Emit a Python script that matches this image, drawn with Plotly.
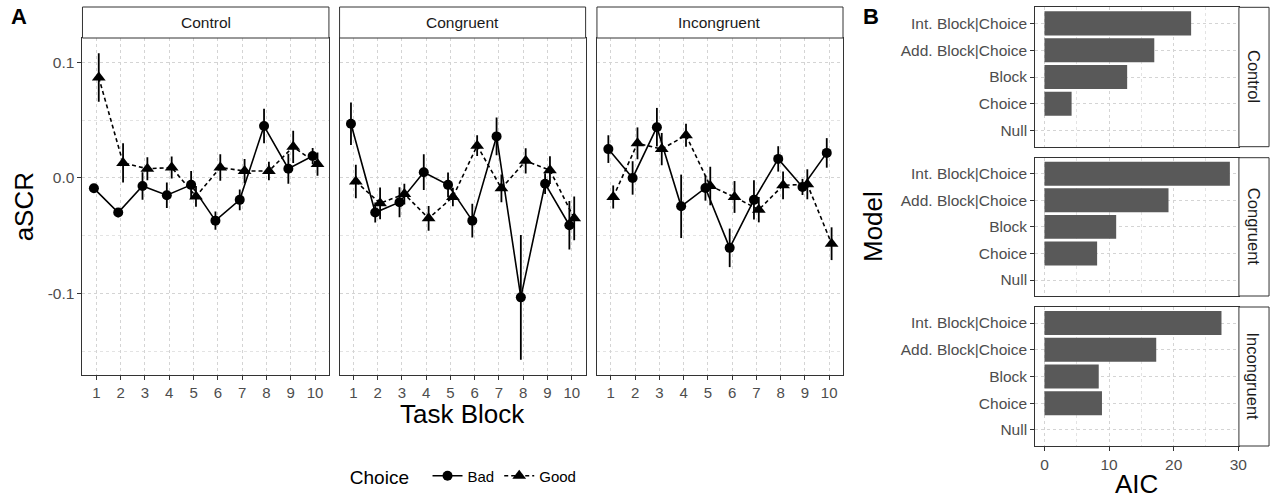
import plotly.graph_objects as go

W, H = 1282, 499

# ---------------- data ----------------
blocks = [1, 2, 3, 4, 5, 6, 7, 8, 9, 10]
conditions = ["Control", "Congruent", "Incongruent"]

control_bad = [-0.009, -0.030, -0.007, -0.015, -0.006, -0.037, -0.019, 0.045, 0.008, 0.019]
control_bad_err = [0.003, 0.004, 0.012, 0.011, 0.012, 0.008, 0.009, 0.015, 0.013, 0.007]
control_good = [0.087, 0.013, 0.008, 0.009, -0.016, 0.009, 0.006, 0.006, 0.027, 0.012]
control_good_err = [0.021, 0.017, 0.010, 0.0095, 0.009, 0.0115, 0.0105, 0.008, 0.014, 0.010]

congruent_bad = [0.047, -0.030, -0.021, 0.005, -0.006, -0.037, 0.036, -0.1035, -0.005, -0.041]
congruent_bad_err = [0.0185, 0.0087, 0.013, 0.0155, 0.0107, 0.0146, 0.0164, 0.054, 0.009, 0.021]
congruent_good = [-0.003, -0.022, -0.014, -0.035, -0.0165, 0.028, -0.009, 0.0148, 0.0067, -0.035]
congruent_good_err = [0.0145, 0.0138, 0.009, 0.0107, 0.008, 0.009, 0.012, 0.011, 0.012, 0.019]

incongruent_bad = [0.025, 0.000, 0.044, -0.0246, -0.0087, -0.0606, -0.019, 0.0165, -0.0078, 0.0217]
incongruent_bad_err = [0.012, 0.0145, 0.0167, 0.0275, 0.011, 0.0167, 0.017, 0.011, 0.007, 0.0128]
incongruent_good = [-0.0165, 0.030, 0.025, 0.037, -0.007, -0.0165, -0.0275, -0.0064, -0.0055, -0.057]
incongruent_good_err = [0.010, 0.0138, 0.014, 0.010, 0.0167, 0.0138, 0.011, 0.012, 0.013, 0.0142]

models = ["Null", "Choice", "Block", "Add. Block|Choice", "Int. Block|Choice"]
aic_control = [0, 4.2, 12.8, 17.0, 22.7]
aic_congruent = [0, 8.15, 11.1, 19.2, 28.7]
aic_incongruent = [0, 8.9, 8.4, 17.3, 27.4]

ytick_vals = [-0.1, 0.0, 0.1]
ytick_text = ["-0.1", "0.0", "0.1"]
aic_ticks = [0, 10, 20, 30]

# ---------------- helpers ----------------
def PX(x):
    return x / W

def PY(y):
    return 1 - y / H

FONT = "Liberation Sans, Arial, Helvetica, sans-serif"
FRAME = "#333333"
GRID = "#d4d4d4"
TICKC = "#4d4d4d"
DODGE = 0.1

fig = go.Figure()

series = [
    (control_bad, control_bad_err, control_good, control_good_err),
    (congruent_bad, congruent_bad_err, congruent_good, congruent_good_err),
    (incongruent_bad, incongruent_bad_err, incongruent_good, incongruent_good_err),
]

for i, (bad, bad_e, good, good_e) in enumerate(series):
    ax = "" if i == 0 else str(i + 1)
    fig.add_trace(go.Scatter(
        x=[b - DODGE for b in blocks], y=bad, mode="lines+markers",
        name="Bad", legendgroup="Bad", showlegend=(i == 0),
        line=dict(color="black", width=1.6, dash="solid"),
        marker=dict(symbol="circle", size=10, color="black"),
        error_y=dict(type="data", array=bad_e, visible=True, color="black", thickness=1.8, width=0),
        xaxis="x" + ax, yaxis="y" + ax,
    ))
    fig.add_trace(go.Scatter(
        x=[b + DODGE for b in blocks], y=good, mode="lines+markers",
        name="Good", legendgroup="Good", showlegend=(i == 0),
        line=dict(color="black", width=1.6, dash="4px,3px"),
        marker=dict(symbol="triangle-up", size=12, color="black"),
        error_y=dict(type="data", array=good_e, visible=True, color="black", thickness=1.8, width=0),
        xaxis="x" + ax, yaxis="y" + ax,
    ))

aics = [aic_control, aic_congruent, aic_incongruent]
for j, vals in enumerate(aics):
    n = str(j + 4)
    fig.add_trace(go.Bar(
        x=vals, y=models, orientation="h", width=0.9,
        marker=dict(color="#595959", line=dict(width=0)),
        showlegend=False, xaxis="x" + n, yaxis="y" + n,
    ))

# ---------------- layout ----------------
layout = dict(
    width=W, height=H,
    margin=dict(l=0, r=0, t=0, b=0),
    paper_bgcolor="white", plot_bgcolor="white",
    font=dict(family=FONT, color="black"),
    showlegend=True,
    legend=dict(
        orientation="h", x=PX(350), xanchor="left", y=PY(477), yanchor="middle",
        title=dict(text="Choice  ", font=dict(size=19, family=FONT, color="black"), side="left"),
        font=dict(size=15, family=FONT, color="black"),
        bgcolor="rgba(0,0,0,0)", itemwidth=30, tracegroupgap=0,
    ),
)

a_panels = [(83, 331), (341.7, 589.3), (600.7, 848.3)]
a_top, a_bot = 38, 375
yr = [-0.1708, 0.1213]
xr = [0.43, 10.57]

for i, (l, r) in enumerate(a_panels):
    ax = "" if i == 0 else str(i + 1)
    layout["xaxis" + ax] = dict(
        domain=[PX(l), PX(r)], range=xr, anchor="y" + ax,
        tickvals=blocks, ticks="outside", ticklen=4, tickwidth=1, tickcolor=FRAME,
        tickfont=dict(size=15, color=TICKC, family=FONT),
        showgrid=True, gridcolor=GRID, griddash="3px,3px", gridwidth=1,
        showline=True, mirror=True, linecolor=FRAME, linewidth=1, zeroline=False,
    )
    layout["yaxis" + ax] = dict(
        domain=[PY(a_bot), PY(a_top)], range=yr, anchor="x" + ax,
        tickvals=ytick_vals, ticktext=ytick_text,
        ticks="outside" if i == 0 else "", ticklen=4, tickwidth=1, tickcolor=FRAME,
        showticklabels=(i == 0),
        tickfont=dict(size=15.5, color=TICKC, family=FONT),
        showgrid=True, gridcolor=GRID, griddash="3px,3px", gridwidth=1,
        minor=dict(tickvals=[-0.15, -0.05, 0.05], showgrid=True, gridcolor="#e3e3e3",
                   griddash="3px,3px", gridwidth=1),
        showline=True, mirror=True, linecolor=FRAME, linewidth=1, zeroline=False,
    )

b_l, b_r = 1041.7, 1246.7
b_panels = [(7.3, 146.7), (157.7, 296), (307, 446)]
for j, (t, b) in enumerate(b_panels):
    n = str(j + 4)
    layout["xaxis" + n] = dict(
        domain=[PX(b_l), PX(b_r)], range=[-1.435, 30.1], anchor="y" + n,
        tickvals=aic_ticks, ticks="outside" if j == 2 else "", ticklen=4, tickcolor=FRAME,
        showticklabels=(j == 2),
        tickfont=dict(size=15.5, color=TICKC, family=FONT),
        showgrid=True, gridcolor=GRID, griddash="3px,3px", gridwidth=1,
        minor=dict(tickvals=[5, 15, 25], showgrid=True, gridcolor="#e3e3e3",
                   griddash="3px,3px", gridwidth=1),
        showline=True, mirror=True, linecolor=FRAME, linewidth=1, zeroline=False,
    )
    layout["yaxis" + n] = dict(
        domain=[PY(b), PY(t)], anchor="x" + n, type="category",
        categoryorder="array", categoryarray=models, range=[-0.6, 4.6],
        ticks="outside", ticklen=4, tickcolor=FRAME,
        tickfont=dict(size=15.5, color=TICKC, family=FONT),
        showgrid=True, gridcolor=GRID, griddash="3px,3px", gridwidth=1,
        showline=True, mirror=True, linecolor=FRAME, linewidth=1, zeroline=False,
    )

shapes = []
annotations = []

# strips for panel A
for (l, r), name in zip(a_panels, conditions):
    shapes.append(dict(type="rect", xref="paper", yref="paper",
                       x0=PX(l), x1=PX(r), y0=PY(a_top), y1=PY(7),
                       line=dict(color=FRAME, width=1), fillcolor="white", layer="above"))
    annotations.append(dict(xref="paper", yref="paper", x=PX((l + r) / 2), y=PY(22.5),
                            text=name, showarrow=False, xanchor="center", yanchor="middle",
                            font=dict(size=15.5, color="#1a1a1a", family=FONT)))

# strips for panel B (right side)
for (t, b), name in zip(b_panels, conditions):
    shapes.append(dict(type="rect", xref="paper", yref="paper",
                       x0=PX(b_r), x1=PX(1277), y0=PY(b), y1=PY(t),
                       line=dict(color=FRAME, width=1), fillcolor="white", layer="above"))
    annotations.append(dict(xref="paper", yref="paper", x=PX((b_r + 1277) / 2), y=PY((t + b) / 2),
                            text=name, showarrow=False, textangle=90,
                            xanchor="center", yanchor="middle",
                            font=dict(size=16.5, color="#1a1a1a", family=FONT)))

# titles
annotations += [
    dict(xref="paper", yref="paper", x=PX(465.5), y=PY(414), text="Task Block", showarrow=False,
         xanchor="center", yanchor="middle", font=dict(size=26, family=FONT, color="black")),
    dict(xref="paper", yref="paper", x=PX(24), y=PY(206.5), text="aSCR", showarrow=False,
         textangle=-90, xanchor="center", yanchor="middle", font=dict(size=26, family=FONT, color="black")),
    dict(xref="paper", yref="paper", x=PX(1144), y=PY(484), text="AIC", showarrow=False,
         xanchor="center", yanchor="middle", font=dict(size=26, family=FONT, color="black")),
    dict(xref="paper", yref="paper", x=PX(878), y=PY(226.5), text="Model", showarrow=False,
         textangle=-90, xanchor="center", yanchor="middle", font=dict(size=26, family=FONT, color="black")),
    dict(xref="paper", yref="paper", x=PX(9), y=PY(16), text="<b>A</b>", showarrow=False,
         xanchor="left", yanchor="middle", font=dict(size=22, family=FONT, color="black")),
    dict(xref="paper", yref="paper", x=PX(866), y=PY(16), text="<b>B</b>", showarrow=False,
         xanchor="left", yanchor="middle", font=dict(size=22, family=FONT, color="black")),
]

layout["shapes"] = shapes
layout["annotations"] = annotations
fig.update_layout(**layout)

fig.write_html(
    "out.html",
    config={"displayModeBar": False},
    post_script="document.body.style.margin='0';document.body.style.padding='0';document.body.style.overflow='hidden';",
)
